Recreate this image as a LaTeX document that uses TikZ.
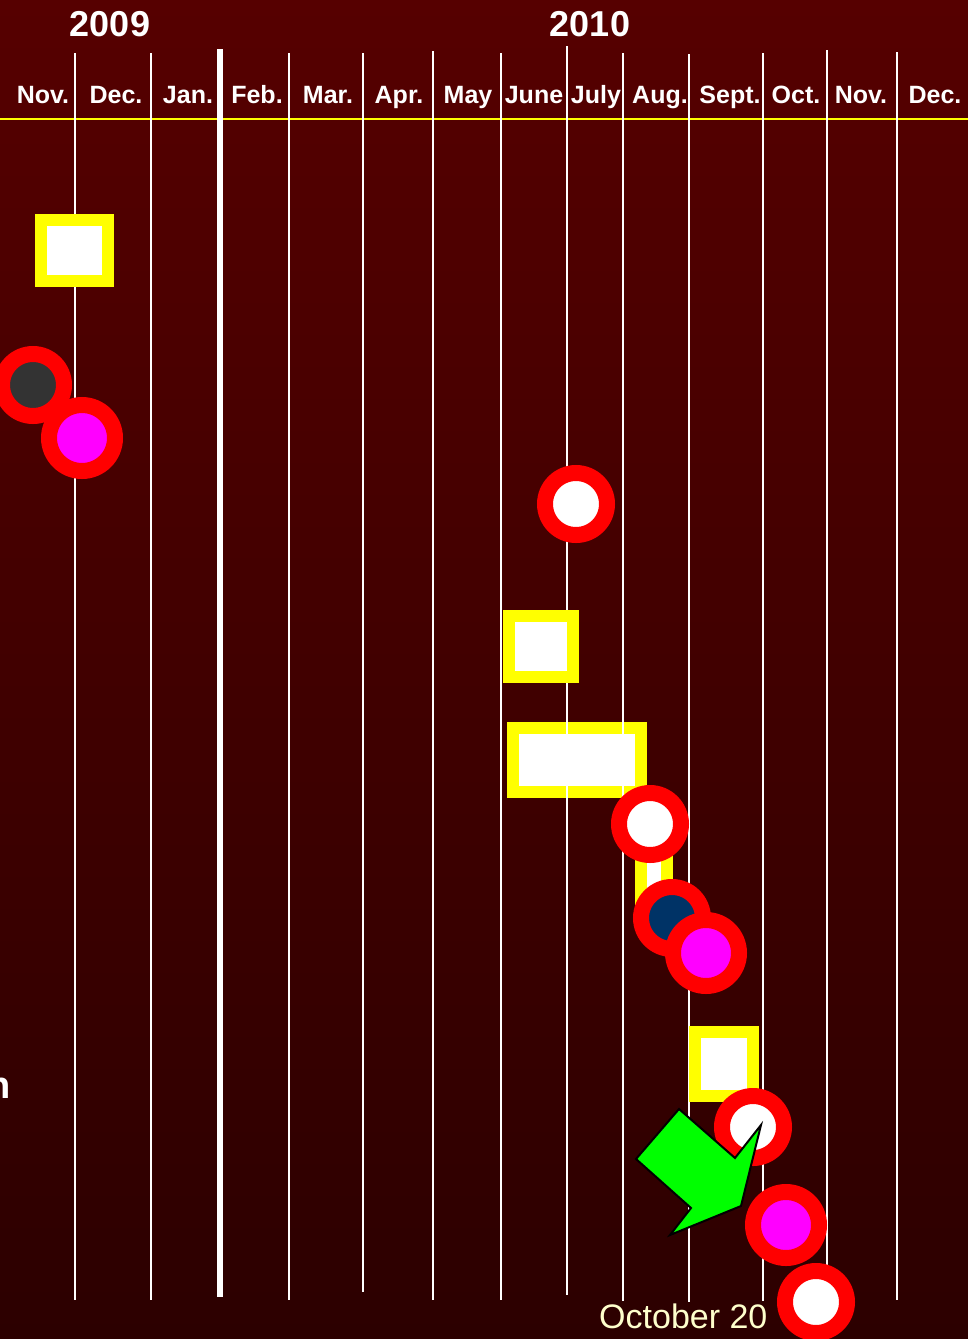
\documentclass[tikz,border=0pt]{standalone}
\usepackage{fontspec}
\setmainfont{Liberation Sans}
\definecolor{bgtop}{RGB}{86,0,0}
\definecolor{bgbot}{RGB}{44,0,0}
\definecolor{navy}{HTML}{003366}
\definecolor{darkdot}{HTML}{333333}
\definecolor{cream}{HTML}{FFFFCC}
\definecolor{pink}{HTML}{FF00FF}
\definecolor{frame}{HTML}{FFFF00}
\definecolor{ring}{HTML}{FF0000}
\definecolor{pointer}{HTML}{00FF00}
\usepackage{tikz}
\usetikzlibrary{positioning}

\begin{document}
\begin{tikzpicture}[
    x=1pt, y=-1pt,
    month/.style={anchor=base, text=white, font=\fontsize{25}{28}\selectfont\bfseries},
    year/.style={anchor=base, text=white, font=\fontsize{36}{40}\selectfont\bfseries},
    evbox/.style={rectangle, draw=frame, line width=12pt, fill=white, inner sep=0pt},
    evdot/.style={circle, draw=ring, line width=16pt, fill=#1, inner sep=0pt, minimum size=62pt},
    bigdot/.style={evdot=#1, minimum size=66pt},
    grid/.style={white, line width=2pt}
  ]
  \useasboundingbox (0,0) rectangle (968,1339);
  \shade[top color=bgtop, bottom color=bgbot] (0,0) rectangle (968,1339);

  % wide box sits under the month lines
  \node[evbox, minimum width=128pt, minimum height=64pt] (box3) at (577,760) {};

  \draw[frame, line width=2.5pt] (0,119) -- (968,119);
  \foreach \x/\t/\b in {75/53/1300, 151/53/1300, 289/53/1300, 363/53/1292,
                        433/51/1300, 501/53/1300, 567/46/1295, 623/53/1301,
                        689/54/1302, 763/53/1301, 827/50/1300, 897/52/1300}
    \draw[grid] (\x,\t) -- (\x,\b);
  \draw[white, line width=6pt] (220,49) -- (220,1297);

  % years and months
  \node[year] (y2009) at (110,36) {2009};
  \node[year] (y2010) at (590,36) {2010};
  \foreach \m/\x [count=\i] in {Nov./43, Dec./116, Jan./188, Feb./257, Mar./328,
                                Apr./399, May/468, June/534, July/596, Aug./660,
                                Sept./730, Oct./796, Nov./861, Dec./935}
    \node[month] (m\i) at (\x,103) {\m};

  % events
  \node[evbox, minimum width=67pt, minimum height=61pt] (box1) at (74.5,250.5) {};
  \node[evdot=darkdot] (dot1) at (33,385) {};
  \node[bigdot=pink] (dot2) at (82,438) {};
  \node[evdot=white] (dot3) at (576,504) {};
  \node[evbox, minimum width=64pt, minimum height=61pt] (box2) at (541,646.5) {};
  \node[evbox, minimum width=26pt, minimum height=54pt] (box4) at (654,873) {};
  \node[evdot=white] (dot4) at (650,824) {};
  \node[evdot=navy] (dot5) at (672,918) {};
  \node[bigdot=pink] (dot6) at (706,953) {};
  \node[evbox, minimum width=58pt, minimum height=64pt] (box5) at (724,1064) {};
  \node[evdot=white] (dot7) at (753,1127) {};

  % pointer
  \filldraw[fill=pointer, draw=black, line width=2pt, line join=miter]
    (679,1109) -- (735,1158) -- (761,1125) -- (741,1206) -- (670,1235)
    -- (691,1208) -- (636,1159) -- cycle;

  \node[bigdot=pink] (dot8) at (786,1225) {};
  \node[evdot=white] (dot9) at (816,1302) {};

  \node[anchor=base west, text=cream, font=\fontsize{34}{38}\selectfont, inner sep=0pt]
    (today) at (599,1328) {October 20};
  \node[anchor=base east, text=white, font=\fontsize{38}{42}\selectfont\bfseries, inner sep=0pt]
    (cut) at (11,1098) {n};
\end{tikzpicture}
\end{document}
